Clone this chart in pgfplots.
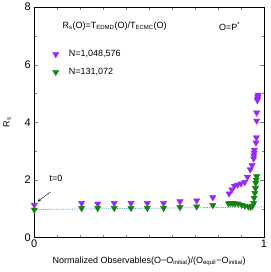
\documentclass[border=0pt]{standalone}
\usepackage{pgfplots}
\pgfplotsset{compat=1.18}
\usepackage{fontspec}
\setmainfont{Liberation Sans}
\definecolor{cpurple}{RGB}{150,40,255}
\definecolor{cgreen}{RGB}{20,130,20}
\definecolor{cline}{RGB}{60,160,220}
\begin{document}
\begin{tikzpicture}
\begin{axis}[
  scale only axis,
  width=229.7pt, height=230.5pt,
  xmin=0, xmax=1, ymin=0, ymax=8,
  xtick={0,1}, minor x tick num=9,
  ytick={0,2,4,6,8}, minor y tick num=1,
  tick pos=both, tick align=inside,
  major tick length=4pt, minor tick length=2.5pt,
  /pgf/number format/assume math mode=true,
  tick label style={font=\fontsize{11}{12}\selectfont},
  xticklabel style={yshift=1pt},
  label style={font=\fontsize{9}{11}\selectfont},
  xlabel={Normalized Observables(O−O\textsubscript{initial})/(O\textsubscript{equil}−O\textsubscript{initial})},
  ylabel={R\textsubscript{s}},
  xlabel style={yshift=-2pt},
  ylabel style={yshift=7pt},
  legend style={at={(0.066,0.83)}, anchor=north west, draw=none, fill=none,
    font=\fontsize{9}{11}\selectfont, row sep=6pt, column sep=8pt},
  legend cell align=left,
  clip=false,
]
\addplot[only marks, mark=triangle*, mark options={rotate=180, fill=cpurple, draw=cpurple}, mark size=3.6pt]
coordinates {
(0,1.13) (0.206,1.19) (0.276,1.17) (0.348,1.19) (0.421,1.19) (0.492,1.19) (0.563,1.19) (0.634,1.25) (0.707,1.28) (0.777,1.39)
(0.848,1.52) (0.860,1.66) (0.871,1.79) (0.885,1.83) (0.900,1.87) (0.916,1.92) (0.928,2.10) (0.940,2.36) (0.948,2.50)
(0.955,2.74) (0.956,2.84) (0.957,2.94) (0.958,3.04) (0.965,3.29) (0.967,3.47) (0.968,4.05) (0.968,4.33)
(0.971,4.76) (0.972,4.82) (0.973,4.88) (0.974,4.95)
};
\addlegendentry{N=1,048,576}
\addplot[only marks, mark=triangle*, mark options={rotate=180, fill=cgreen, draw=cgreen}, mark size=3.6pt]
coordinates {
(0,0.96) (0.206,1.02) (0.276,1.02) (0.348,1.02) (0.421,1.02) (0.492,1.02) (0.563,1.02) (0.634,1.05) (0.707,1.07) (0.777,1.12)
(0.845,1.18) (0.855,1.19) (0.865,1.19) (0.875,1.18) (0.888,1.17) (0.903,1.13) (0.917,1.10) (0.932,1.07) (0.942,1.06)
(0.950,1.10) (0.955,1.19) (0.957,1.37) (0.960,1.54) (0.963,1.71) (0.964,1.89) (0.966,2.00) (0.968,2.12)
};
\addlegendentry{N=131,072}
\addplot[cline, densely dotted, thick, forget plot] coordinates {(0,0.97) (1,1.06)};
\node[font=\fontsize{9}{11}\selectfont] at (axis cs:0.35,7.33) {R\textsubscript{s}(O)=T\textsubscript{EDMD}(O)/T\textsubscript{ECMC}(O)};
\node[font=\fontsize{9}{11}\selectfont] at (axis cs:0.85,7.33) {O=P\textsuperscript{*}};
\node[font=\fontsize{9}{11}\selectfont] at (axis cs:0.095,2.05) {t=0};
\draw[-stealth, black] (axis cs:0.07,1.58) -- (axis cs:0.015,1.25);
\end{axis}
\pgfresetboundingbox
\useasboundingbox (-34.3pt,-34.5pt) rectangle (235.7pt,237.5pt);
\end{tikzpicture}
\end{document}
